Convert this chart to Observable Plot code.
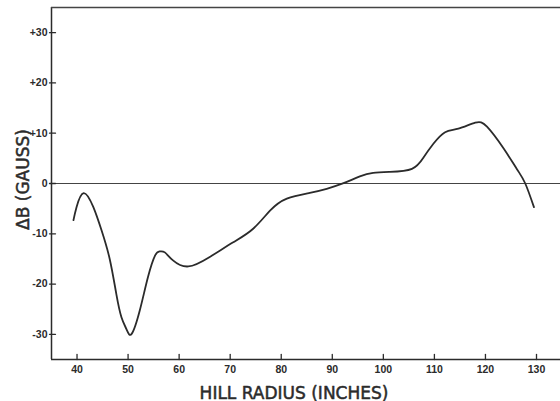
<!DOCTYPE html>
<html>
<head>
<meta charset="utf-8">
<script src="https://cdn.jsdelivr.net/npm/d3@7"></script>
<script src="https://cdn.jsdelivr.net/npm/@observablehq/plot@0.6"></script>
<style>
  html, body { margin: 0; padding: 0; background: #fff; }
  #chart svg { display: block; }
</style>
</head>
<body>
<div id="chart"></div>
<script>
// Hill radius (inches)
const radius = [39.3, 39.9, 41.3, 43.2, 44.8, 46.4, 47.7, 48.7, 49.7, 50.7, 52.3, 53.9, 55.3, 56.2, 57.2, 58.8, 61.8, 66.0, 70.6, 74.5, 77.8, 81.1, 85.6, 88.9, 92.2, 95.4, 98.0, 101.3, 105.6, 107.9, 109.8, 112.1, 114.7, 118.0, 120.3, 123.6, 126.2, 127.8, 129.5];
// ΔB (gauss)
const deltaB = [-7.3, -4.7, -1.9, -4.7, -9.3, -15.0, -22.0, -26.6, -29.0, -29.9, -25.2, -18.6, -14.3, -13.5, -13.7, -15.3, -16.5, -14.6, -11.7, -9.0, -5.4, -3.0, -1.85, -1.05, 0.06, 1.4, 2.1, 2.3, 2.9, 5.2, 7.9, 10.2, 10.9, 12.1, 11.3, 6.9, 2.8, 0.0, -4.7];

const xTicks = [40, 50, 60, 70, 80, 90, 100, 110, 120, 130];
const yTicks = [-30, -20, -10, 0, 10, 20, 30];
const yTickLabels = ["-30", "-20", "-10", "0", "+10", "+20", "+30"];

const xLabel = "HILL RADIUS (INCHES)";
const yLabel = "ΔB (GAUSS)";

const data = radius.map((r, i) => ({r, b: deltaB[i]}));
const ink = "#2b2b2b";

// short straight tick shape for vector marks
const tickShape = {draw(context, l) { context.moveTo(0, 0); context.lineTo(0, -l); }};

const chart = Plot.plot({
  width: 560,
  height: 401,
  marginLeft: 51,
  marginRight: 0,
  marginTop: 7,
  marginBottom: 42,
  style: {background: "#fff", color: ink, fontFamily: "DejaVu Sans"},
  x: {domain: [35, 134.7]},
  y: {domain: [-35, 35]},
  marks: [
    // frame lines
    Plot.ruleX([35], {stroke: ink, strokeWidth: 1.5}),
    Plot.ruleY([-35], {stroke: ink, strokeWidth: 1.5}),
    Plot.ruleY([35], {stroke: "#444", strokeWidth: 1.5}),
    // zero line
    Plot.ruleY([0], {stroke: "#444", strokeWidth: 1.2}),
    // inward ticks
    Plot.vector(xTicks, {x: d => d, frameAnchor: "bottom", length: 5, rotate: 0, anchor: "start",
      shape: tickShape, stroke: ink, strokeWidth: 1.3}),
    Plot.vector(yTicks, {y: d => d, frameAnchor: "left", length: 6, rotate: 90, anchor: "start",
      shape: tickShape, stroke: ink, strokeWidth: 1.3, dx: -2}),
    Plot.axisX({
      ticks: xTicks, tickSize: 0, tickPadding: 6, fontSize: 10.5, fontWeight: "bold",
      fontFamily: "Liberation Sans", label: null, tickFormat: d => String(d), fill: ink
    }),
    Plot.axisY({
      ticks: yTicks, tickSize: 0, tickPadding: 4, fontSize: 10.5, fontWeight: "bold",
      fontFamily: "Liberation Sans", label: null,
      tickFormat: d => yTickLabels[yTicks.indexOf(d)], fill: ink
    }),
    Plot.line(data, {x: "r", y: "b", curve: "natural", stroke: ink, strokeWidth: 1.8}),
    Plot.text([xLabel], {
      frameAnchor: "bottom", dx: -12, dy: 39, lineAnchor: "bottom", textAnchor: "middle",
      fontSize: 17, fill: ink, stroke: ink, strokeWidth: 0.5, fontFamily: "DejaVu Sans"
    }),
    Plot.text([yLabel], {
      frameAnchor: "left", dx: -23, dy: -4, rotate: -90, lineAnchor: "bottom", textAnchor: "middle",
      fontSize: 17, fill: ink, stroke: ink, strokeWidth: 0.5, fontFamily: "DejaVu Sans"
    })
  ]
});
document.getElementById("chart").appendChild(chart);
</script>
</body>
</html>
